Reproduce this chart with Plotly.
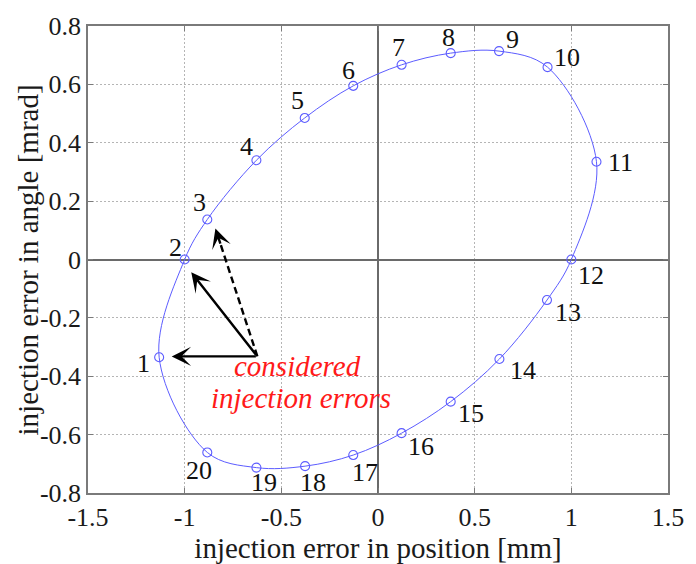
import plotly.graph_objects as go

# Injection error phase-space ellipse: 20 sampled error points
point_id = list(range(1, 21))
pos_mm = [-1.132, -1.000, -0.883, -0.629, -0.379, -0.128, 0.122, 0.376, 0.626, 0.877,
          1.130, 1.000, 0.874, 0.628, 0.376, 0.122, -0.128, -0.377, -0.629, -0.883]
ang_mrad = [-0.335, 0.000, 0.137, 0.340, 0.485, 0.595, 0.667, 0.707, 0.714, 0.659,
            0.335, 0.000, -0.139, -0.341, -0.487, -0.595, -0.670, -0.708, -0.713, -0.661]

# Label placement offsets (pixels, right / up) for the point numbers
label_dx = [-16, -9, -8, -10, -7, -5, -3, -2, 13, 19, 24, 20, 21, 24, 20, 19, 12, 8, 8, -8]
label_dy = [-6, 12, 17, 14, 17, 15, 17, 16, 12, 10, -1, -16, -12, -11, -12, -13, -17, -16, -15, -18]

# Considered injection error vectors (common origin)
vec_origin = (-0.624, -0.332)
vec_tip_x = [-1.067, -0.966, -0.841]
vec_tip_y = [-0.332, -0.044, 0.106]
vec_dashed = [False, False, True]

x_ticks = [-1.5, -1.0, -0.5, 0.0, 0.5, 1.0, 1.5]
x_tick_text = ["-1.5", "-1", "-0.5", "0", "0.5", "1", "1.5"]
y_ticks = [-0.8, -0.6, -0.4, -0.2, 0.0, 0.2, 0.4, 0.6, 0.8]
y_tick_text = ["-0.8", "-0.6", "-0.4", "-0.2", "0", "0.2", "0.4", "0.6", "0.8"]

SERIF = "Liberation Serif"
BLUE = "#5c5cff"
FRAME = "#7a7a7a"

fig = go.Figure()

# closed smooth curve through the sampled points
fig.add_trace(go.Scatter(
    x=pos_mm + pos_mm[:1], y=ang_mrad + ang_mrad[:1],
    mode="lines", line=dict(color=BLUE, width=1, shape="spline", smoothing=1.0),
    hoverinfo="skip", showlegend=False,
))
fig.add_trace(go.Scatter(
    x=pos_mm, y=ang_mrad, mode="markers",
    marker=dict(symbol="circle-open", size=9, color=BLUE, line=dict(width=1.1, color=BLUE)),
    showlegend=False,
))

annotations = []
for i, pid in enumerate(point_id):
    annotations.append(dict(
        x=pos_mm[i], y=ang_mrad[i], xref="x", yref="y", text=str(pid),
        showarrow=False, xanchor="center", yanchor="middle",
        xshift=label_dx[i], yshift=label_dy[i],
        font=dict(family=SERIF, size=26, color="#111111"),
    ))

shapes = []
for tx, ty, dashed in zip(vec_tip_x, vec_tip_y, vec_dashed):
    ox, oy = vec_origin
    if dashed:
        # dashed shaft, then a short arrow carrying only the head
        hx = tx + 0.13 * (ox - tx)
        hy = ty + 0.13 * (oy - ty)
        shapes.append(dict(type="line", xref="x", yref="y", x0=ox, y0=oy, x1=hx, y1=hy,
                           line=dict(color="black", width=2.4, dash="7px,4px")))
        annotations.append(dict(x=tx, y=ty, ax=hx, ay=hy, xref="x", yref="y",
                                axref="x", ayref="y", text="", showarrow=True,
                                arrowhead=3, arrowsize=1.35, arrowwidth=2.4, arrowcolor="black"))
    else:
        annotations.append(dict(x=tx, y=ty, ax=ox, ay=oy, xref="x", yref="y",
                                axref="x", ayref="y", text="", showarrow=True,
                                arrowhead=3, arrowsize=1.35, arrowwidth=2.4, arrowcolor="black"))

red_font = dict(family=SERIF, size=29, color="#ff1a1a", style="italic")
annotations.append(dict(x=vec_origin[0], y=vec_origin[1], xref="x", yref="y",
                        text="considered", showarrow=False, xanchor="center",
                        yanchor="middle", xshift=40, yshift=-10, font=red_font))
annotations.append(dict(x=vec_origin[0], y=vec_origin[1], xref="x", yref="y",
                        text="injection errors", showarrow=False, xanchor="center",
                        yanchor="middle", xshift=44, yshift=-42, font=red_font))

# vertical axis title
annotations.append(dict(x=-0.1035, y=0.5, xref="paper", yref="paper",
                        text="injection error in angle [mrad]", textangle=-90,
                        showarrow=False, xanchor="center", yanchor="middle",
                        font=dict(family=SERIF, size=29, color="#1a1a1a")))

axis_common = dict(
    showgrid=True, gridcolor="#b5b5b5", gridwidth=1, griddash="2px,2px",
    zeroline=True, zerolinecolor="#6a6a6a", zerolinewidth=1.5,
    showline=True, linecolor=FRAME, linewidth=1.5, mirror="ticks",
    ticks="inside", ticklen=5, tickcolor=FRAME, tickwidth=1,
    tickfont=dict(family=SERIF, size=26, color="#1a1a1a"),
)

fig.update_layout(
    width=696, height=564,
    margin=dict(l=88, r=17, t=19, b=63),
    paper_bgcolor="white", plot_bgcolor="white",
    xaxis=dict(range=[-1.5, 1.5], tickvals=x_ticks, ticktext=x_tick_text,
               title=dict(text="injection error in position [mm]", standoff=0,
                          font=dict(family=SERIF, size=29, color="#1a1a1a")),
               **axis_common),
    yaxis=dict(range=[-0.8, 0.8], tickvals=y_ticks, ticktext=y_tick_text,
               **axis_common),
    annotations=annotations, shapes=shapes,
)

fig.write_html("out.html")
